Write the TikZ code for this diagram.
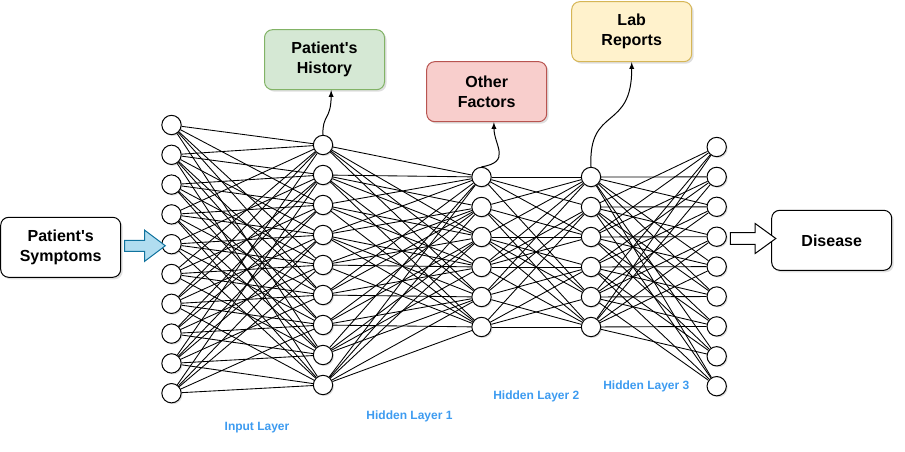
\documentclass[tikz,border=0pt]{standalone}
\usepackage{fontspec}
\setmainfont{Liberation Sans}
\usetikzlibrary{shapes,arrows,calc,positioning,shadows}
\definecolor{histfill}{HTML}{D5E8D4}
\definecolor{histline}{HTML}{82B366}
\definecolor{otherfill}{HTML}{F8CECC}
\definecolor{otherline}{HTML}{B85450}
\definecolor{labfill}{HTML}{FFF2CC}
\definecolor{labline}{HTML}{D6B656}
\definecolor{inarrowfill}{HTML}{B1DDF0}
\definecolor{inarrowline}{HTML}{10739E}
\definecolor{layerblue}{HTML}{3D9BF0}

\begin{document}
\begin{tikzpicture}[x=0.75pt,y=-0.75pt]

  \tikzstyle{neuron} = [draw,circle,fill=white,minimum size=14.5pt,inner sep=0pt,line width=0.75pt,drop shadow={opacity=0.25,shadow xshift=1pt,shadow yshift=-1pt}]
  \tikzstyle{infobox} = [draw,rounded corners=6pt,minimum width=90pt,minimum height=45pt,align=center,line width=0.75pt,font=\bfseries\fontsize{12}{15}\selectfont,drop shadow={opacity=0.25,shadow xshift=1.5pt,shadow yshift=-1.5pt}]
  \tikzstyle{layername} = [text=layerblue,font=\bfseries\fontsize{9}{11}\selectfont]
  \tikzstyle{link} = [line width=0.65pt]
  \tikzstyle{feed} = [-latex,line width=0.75pt]

  \useasboundingbox (0,0) rectangle (905,452);

  \foreach \x in {1,...,10}
    \node[neuron] (in\x) at (171.5,{125+29.8*(\x-1)}) {};
  \foreach \x in {1,...,9}
    \node[neuron] (hid1\x) at (323,{145+30*(\x-1)}) {};
  \foreach \x in {1,...,6} {
    \node[neuron] (hid2\x) at (481.5,{177+30*(\x-1)}) {};
    \node[neuron] (hid3\x) at (591,{177+30*(\x-1)}) {};
  }
  \foreach \x in {1,...,9}
    \node[neuron] (out\x) at (716.7,{147+29.9*(\x-1)}) {};

  \foreach \i in {1,...,10}
    \foreach \j in {1,...,9} {
      \pgfmathtruncatemacro\keep{mod(7*\i+3*\j,5)}
      \ifnum\keep<3 \draw[link] (in\i) -- (hid1\j); \fi
    }
  \foreach \i in {1,...,9}
    \foreach \j in {1,...,6} {
      \pgfmathtruncatemacro\keep{mod(3*\i+5*\j,7)}
      \ifnum\keep<5 \draw[link] (hid1\i) -- (hid2\j); \fi
    }
  \foreach \i in {1,...,6}
    \foreach \j in {1,...,6} {
      \pgfmathtruncatemacro\keep{mod(\i+4*\j+2,7)}
      \ifnum\keep<5 \draw[link] (hid2\i) -- (hid3\j); \fi
    }
  \foreach \i in {1,...,6}
    \foreach \j in {1,...,9} {
      \pgfmathtruncatemacro\keep{mod(2*\i+\j,3)}
      \ifnum\keep>0 \draw[link] (hid3\i) -- (out\j); \fi
    }

  \node[infobox,fill=white] (symptoms) at (60.7,247.3) {Patient\textquotesingle s\\Symptoms};
  \node[infobox,fill=white] (disease) at (831.7,240.3) {Disease};
  \node[infobox,fill=histfill,draw=histline] (history) at (324.5,59.7) {Patient\textquotesingle s\\History};
  \node[infobox,fill=otherfill,draw=otherline] (other) at (486.7,91.7) {Other\\Factors};
  \node[infobox,fill=labfill,draw=labline] (lab) at (631.7,31.7) {Lab\\Reports};

  \node[single arrow,draw=inarrowline,fill=inarrowfill,inner sep=3.75pt,single arrow head extend=7.5pt,single arrow tip angle=74,minimum height=30.6pt,line width=0.75pt] (symarrow) at ($(symptoms.east)!0.5!(in5.west)$) {};
  \node[single arrow,draw,fill=white,inner sep=4.1pt,single arrow head extend=6.75pt,single arrow tip angle=72,minimum height=34pt,line width=0.75pt] (disarrow) at ($(out4.east)!0.5!(disease.west)$) {};

  \draw[feed] (hid11.north) .. controls (322,115) and (331,120) .. ([xshift=5pt]history.south);
  \draw[feed] (hid21.north) .. controls (512,162) and (494,145) .. ([xshift=5.4pt]other.south);
  \draw[feed] (hid31.north) .. controls (588,105) and (632,132) .. (lab.south);

  \node[layername] (inlabel) at (257,427.7) {Input Layer};
  \node[layername] (h1label) at (409.5,416.7) {Hidden Layer 1};
  \node[layername] (h2label) at (536.3,396.7) {Hidden Layer 2};
  \node[layername] (h3label) at (646.3,386.7) {Hidden Layer 3};

\end{tikzpicture}
\end{document}
